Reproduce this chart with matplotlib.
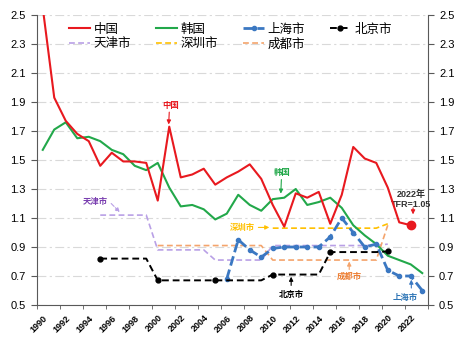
import numpy as np
import matplotlib
matplotlib.use("Agg")
from matplotlib import pyplot as plt

plt.rcParams['font.family'] = ['Liberation Sans', 'Noto Sans CJK SC', 'DejaVu Sans']
plt.rcParams['axes.unicode_minus'] = False

# 数据
years_cn = list(range(1990, 2023))
china = [2.55, 1.93, 1.77, 1.68, 1.63, 1.46, 1.55, 1.49, 1.49, 1.48,
         1.22, 1.73, 1.38, 1.40, 1.44, 1.33, 1.38, 1.42, 1.47, 1.37,
         1.19, 1.04, 1.27, 1.24, 1.28, 1.06, 1.26, 1.59, 1.51, 1.48,
         1.31, 1.07, 1.05]

years_kr = list(range(1990, 2024))
korea = [1.57, 1.71, 1.76, 1.65, 1.66, 1.63, 1.57, 1.54, 1.46, 1.43,
         1.48, 1.31, 1.18, 1.19, 1.16, 1.09, 1.13, 1.26, 1.19, 1.15,
         1.23, 1.24, 1.30, 1.19, 1.21, 1.24, 1.17, 1.05, 0.98, 0.92,
         0.84, 0.81, 0.78, 0.72]

years_sh = list(range(2006, 2024))
shanghai = [0.68, 0.95, 0.88, 0.83, 0.89, 0.90, 0.90, 0.90, 0.90, 0.97,
            1.10, 1.00, 0.90, 0.92, 0.74, 0.70, 0.70, 0.60]

years_bj = list(range(1995, 2021))
beijing = [0.82] * 5 + [0.67] * 10 + [0.71] * 5 + [0.865] * 5 + [0.87]
bj_census = [0, 5, 10, 15, 20, 25]

years_tj = list(range(1995, 2021))
tianjin = [1.12] * 5 + [0.88] * 5 + [0.81] * 5 + [0.91] * 10 + [0.92]

years_sz = list(range(2010, 2021))
shenzhen = [1.03] * 10 + [1.06]

years_cd = list(range(2000, 2021))
chengdu = [0.91] * 10 + [0.81] * 10 + [1.05]

c_red = '#e8191f'
c_green = '#22a84a'
c_blue = '#3b78c2'
c_purple = '#b9a0e6'
c_yellow = '#ffc000'
c_orange = '#f4a46c'

fig = plt.figure(figsize=(4.62, 3.39), dpi=100)
ax = fig.add_axes([37 / 462, 1 - 305 / 339, 391 / 462, 290 / 339])

ax.plot(years_cn, china, color=c_red, lw=1.5, label='中国', zorder=5)
ax.plot(years_kr, korea, color=c_green, lw=1.5, label='韩国', zorder=4)
ax.plot(years_sh, shanghai, color=c_blue, lw=2, ls=(0, (3.5, 1.5)), marker='o', ms=3,
        label='上海市', zorder=6)
ax.plot(years_bj, beijing, color='black', lw=1.4, ls=(0, (3.5, 2)), marker='o', ms=3.5,
        markevery=bj_census, label='北京市', zorder=6)
ax.plot(years_tj, tianjin, color=c_purple, lw=1.2, ls=(0, (3.5, 2)), label='天津市', zorder=3)
ax.plot(years_sz, shenzhen, color=c_yellow, lw=1.2, ls=(0, (3.5, 2)), label='深圳市', zorder=3)
ax.plot(years_cd, chengdu, color=c_orange, lw=1.2, ls=(0, (3.5, 2)), label='成都市', zorder=3)

# 2022年红点
ax.plot([years_cn[-1]], [china[-1]], 'o', color=c_red, ms=6, zorder=7)

ax.set_xlim(1989.5, 2023.5)
ax.set_ylim(0.5, 2.5)
yt = np.arange(0.5, 2.51, 0.2)
ax.set_yticks(yt)
ax.set_yticklabels([f'{v:.1f}' for v in yt])
ax.yaxis.grid(True, color='#d9d9d9', ls=(0, (8, 3, 2, 3)), lw=0.8)
ax.set_axisbelow(True)

ax.set_xticks(range(1990, 2023, 2))
ax.set_xticklabels([str(y) for y in range(1990, 2023, 2)], rotation=45,
                   ha='right', va='top', rotation_mode='anchor', fontsize=6.5, fontweight='bold')
ax.set_xticks(np.arange(1989.5, 2024, 2), minor=True)
ax.tick_params(axis='x', which='major', length=0, pad=6)
ax.tick_params(axis='x', which='minor', length=3, color='#595959')
ax.tick_params(axis='y', which='major', length=4, color='#595959', labelsize=8,
               right=True, labelright=True, pad=4)

for s in ['left', 'right', 'bottom']:
    ax.spines[s].set_color('#595959')
ax.spines['top'].set_visible(False)

handles, labels = ax.get_legend_handles_labels()
order = ['中国', '天津市', '韩国', '深圳市', '上海市', '成都市', '北京市']
hmap = dict(zip(labels, handles))
ax.legend([hmap[k] for k in order], order, ncol=4, loc='upper left',
          bbox_to_anchor=(0.06, 1.0), frameon=False, fontsize=9,
          handlelength=1.7, handletextpad=0.25, columnspacing=2.0,
          labelspacing=0.2, borderpad=0.2)

# 标注
akw = dict(fontsize=6, fontweight='bold', ha='center', va='center')


def arrow(x0, y0, x1, y1, color, ls='-'):
    ax.annotate('', xy=(x1, y1), xytext=(x0, y0),
                arrowprops=dict(arrowstyle='-|>', color=color, lw=0.8,
                                mutation_scale=6, ls=ls, shrinkA=0, shrinkB=0))


ax.text(2001.1, 1.87, '中国', color=c_red, **akw)
arrow(2001.0, 1.83, 2000.95, 1.745, c_red)

ax.text(2010.8, 1.41, '韩国', color=c_green, **akw)
arrow(2010.75, 1.365, 2010.7, 1.268, c_green)

ax.text(2007.4, 1.035, '深圳市', color=c_yellow, **akw)
arrow(2008.75, 1.035, 2009.7, 1.035, c_yellow)

ax.text(1994.6, 1.21, '天津市', color='#7a3fb0', **akw)
arrow(1995.95, 1.20, 1996.7, 1.14, c_purple, ls='--')

ax.text(2011.6, 0.57, '北京市', color='black', **akw)
arrow(2011.6, 0.635, 2011.6, 0.695, 'black')

ax.text(2016.65, 0.695, '成都市', color='#ed7d31', **akw)
arrow(2016.65, 0.745, 2016.65, 0.80, c_orange)

ax.text(2021.5, 0.55, '上海市', color='#2e75b6', **akw)
arrow(2022.05, 0.617, 2022.05, 0.675, c_blue)

ax.text(2022.05, 1.23, '2022年\nTFR=1.05', color='#333333', fontsize=6.5, fontweight='bold',
        ha='center', va='center', linespacing=1.1)
arrow(2022.2, 1.17, 2022.2, 1.125, c_red)

fig.savefig('out.png', dpi=100)
